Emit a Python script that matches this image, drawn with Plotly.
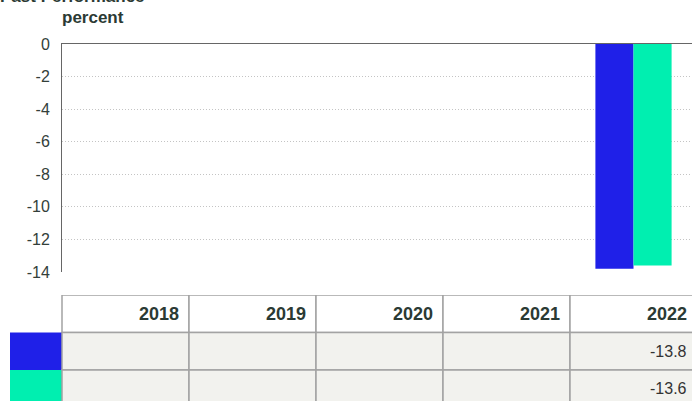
import plotly.graph_objects as go

# ---- data ----
years = ["2018", "2019", "2020", "2021", "2022"]
series_a = [None, None, None, None, -13.8]
series_b = [None, None, None, None, -13.6]
series_colors = ["#1f20e8", "#00efb0"]
y_ticks = [0, -2, -4, -6, -8, -10, -12, -14]

title_text = "Past Performance"
unit_text = "percent"

# ---- layout constants (pixels) ----
W, H = 692, 401
plot_left, plot_top, plot_bottom = 62, 44, 272
col_px = 127.0
swatch_left = 10
table_top = 295
row_px = 37.5
cell_pad = 8

text_color = "#2b3a34"
border_color = "#a3a3a3"
cell_fill = "#f2f2ee"

n = len(years)
x_idx = list(range(n))
x_max = -0.5 + (W - plot_left) / col_px

fig = go.Figure()
for vals, col in zip([series_a, series_b], series_colors):
    fig.add_trace(go.Bar(x=x_idx, y=vals, marker=dict(color=col, line=dict(width=0)),
                         showlegend=False, hoverinfo="skip"))

# ---- table built on a second pair of axes ----
swatch_w = (plot_left - swatch_left) / col_px
x2_min = -0.5 - swatch_w
table_h = H - table_top
y2_max = table_h / row_px
right_shift = col_px / 2 - cell_pad

shapes = []
annotations = []
# header cells
for k, yr in enumerate(years):
    shapes.append(dict(type="rect", xref="x2", yref="y2", x0=k - 0.5, x1=k + 0.5, y0=0, y1=1,
                       fillcolor="white", line=dict(color=border_color, width=1.5), layer="above"))
    annotations.append(dict(xref="x2", yref="y2", x=k, y=0.5, text="<b>%s</b>" % yr,
                            xanchor="right", yanchor="middle", xshift=right_shift, showarrow=False,
                            font=dict(size=18, color=text_color, family="Liberation Sans, Arial")))
# data rows
for r, (vals, col) in enumerate(zip([series_a, series_b], series_colors), start=1):
    shapes.append(dict(type="rect", xref="x2", yref="y2", x0=x2_min, x1=-0.5, y0=r, y1=r + 1,
                       fillcolor=col, line=dict(width=0), layer="above"))
    for k, v in enumerate(vals):
        shapes.append(dict(type="rect", xref="x2", yref="y2", x0=k - 0.5, x1=k + 0.5, y0=r, y1=r + 1,
                           fillcolor=cell_fill, line=dict(color=border_color, width=1.5), layer="above"))
        if v is not None:
            annotations.append(dict(xref="x2", yref="y2", x=k, y=r + 0.5, text="%.1f" % v,
                                    xanchor="right", yanchor="middle", xshift=right_shift, showarrow=False,
                                    font=dict(size=16, color="#333333", family="Liberation Sans, Arial")))

# titles
annotations.append(dict(xref="paper", yref="paper", x=0, y=1, yanchor="bottom", xanchor="left",
                        yshift=-8, xshift=-2, text="<b>%s</b>" % title_text, showarrow=False,
                        font=dict(size=17, color=text_color, family="Liberation Sans, Arial")))
annotations.append(dict(xref="paper", yref="paper", x=plot_left / W, y=1 - 18 / H, yanchor="middle",
                        xanchor="left", xshift=-2, text="<b>%s</b>" % unit_text, showarrow=False,
                        font=dict(size=17, color=text_color, family="Liberation Sans, Arial")))

fig.update_layout(
    width=W, height=H,
    margin=dict(l=0, r=0, t=0, b=0, autoexpand=False),
    paper_bgcolor="white", plot_bgcolor="white",
    barmode="group", bargap=0.4, bargroupgap=0,
    showlegend=False,
    xaxis=dict(domain=[plot_left / W, 1], range=[-0.5, x_max], showticklabels=False,
               showgrid=False, zeroline=False, showline=True, side="top", automargin=False,
               linecolor="#666666", linewidth=1, ticks="", fixedrange=True),
    yaxis=dict(domain=[1 - plot_bottom / H, 1 - plot_top / H], range=[-14, 0],
               tickvals=y_ticks, ticktext=[str(t) for t in y_ticks], automargin=False,
               showgrid=True, gridcolor="#c4c4c4", griddash="1px,2px", gridwidth=1,
               zeroline=False, showline=True, linecolor="#666666", linewidth=1,
               ticks="", ticklabelstandoff=8,
               tickfont=dict(size=16, color="#33403a", family="Liberation Sans, Arial"),
               fixedrange=True),
    xaxis2=dict(domain=[swatch_left / W, 1], range=[x2_min, x_max], anchor="y2",
                visible=False, fixedrange=True, automargin=False),
    yaxis2=dict(domain=[0, table_h / H], range=[y2_max, 0], anchor="x2",
                visible=False, fixedrange=True, automargin=False),
    shapes=shapes, annotations=annotations,
)

fig.write_html("out.html", config={"displayModeBar": False},
               post_script="document.body.style.margin='0';")
